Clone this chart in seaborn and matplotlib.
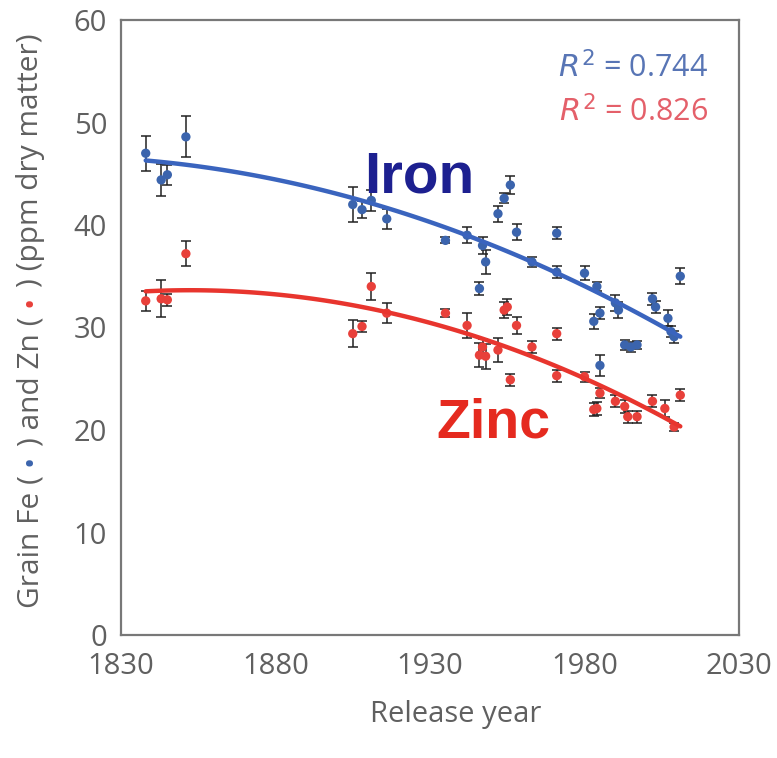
import numpy as np
import pandas as pd
import seaborn as sns
import matplotlib.pyplot as plt

# ---------------- data ----------------
iron_year = [1838, 1843, 1845, 1851, 1905, 1908, 1911, 1916, 1935, 1942, 1947, 1948,
             1946, 1952, 1954, 1956, 1958, 1963, 1971, 1971, 1980, 1984, 1985, 1983,
             1985, 1990, 1991, 1993, 1995, 1997, 2002, 2003, 2007, 2008, 2009, 2011]
iron_val = [47.0, 44.4, 44.9, 48.6, 42.0, 41.5, 42.4, 40.6, 38.5, 39.0, 38.0, 36.4,
            33.8, 41.1, 42.6, 43.9, 39.3, 36.4, 39.2, 35.4, 35.3, 34.0, 31.4, 30.6,
            26.3, 32.4, 31.7, 28.3, 28.1, 28.3, 32.8, 32.0, 30.9, 29.6, 29.1, 35.0]
iron_err = [1.7, 1.6, 1.0, 2.0, 1.7, 0.8, 1.0, 1.0, 0.3, 0.8, 0.8, 1.2,
            0.6, 0.8, 0.5, 0.9, 0.8, 0.5, 0.6, 0.6, 0.7, 0.4, 0.6, 0.7,
            1.0, 0.8, 0.8, 0.5, 0.5, 0.4, 0.6, 0.6, 0.8, 0.5, 0.6, 0.8]

zinc_year = [1838, 1843, 1845, 1851, 1905, 1908, 1911, 1916, 1935, 1942, 1947, 1946,
             1948, 1952, 1954, 1955, 1956, 1958, 1963, 1971, 1971, 1980, 1985, 1984,
             1983, 1990, 1993, 1994, 1997, 2002, 2006, 2009, 2011]
zinc_val = [32.6, 32.8, 32.7, 37.2, 29.4, 30.1, 34.0, 31.4, 31.4, 30.2, 28.1, 27.3,
            27.2, 27.8, 31.7, 32.0, 24.9, 30.2, 28.1, 29.4, 25.3, 25.2, 23.6, 22.1,
            22.0, 22.8, 22.3, 21.3, 21.3, 22.8, 22.1, 20.3, 23.4]
zinc_err = [1.0, 1.8, 0.6, 1.2, 1.3, 0.5, 1.3, 1.0, 0.4, 1.2, 0.8, 1.2,
            1.2, 1.2, 0.8, 0.8, 0.6, 0.8, 0.6, 0.6, 0.6, 0.5, 0.5, 0.6,
            0.6, 0.6, 0.6, 0.6, 0.6, 0.6, 0.8, 0.4, 0.6]

x_ticks = [1830, 1880, 1930, 1980, 2030]
y_ticks = [0, 10, 20, 30, 40, 50, 60]
r2_iron = "0.744"
r2_zinc = "0.826"

# ---------------- style ----------------
sns.set_theme(style="white")
plt.rcParams['font.family'] = ['Open Sans', 'DejaVu Sans']
plt.rcParams['mathtext.fontset'] = 'dejavusans'

GRAY = '#606060'
SPINE = '#787878'
BLUE_PT = '#3b64ad'
RED_PT = '#e8403a'
BLUE_LN = '#3a64be'
RED_LN = '#e8352e'

fig = plt.figure(figsize=(7.77, 7.58), dpi=100)
W, H = 777, 758
ax = fig.add_axes([121 / W, 123 / H, 618 / W, 615 / H])

df_fe = pd.DataFrame({'year': iron_year, 'value': iron_val, 'err': iron_err})
df_zn = pd.DataFrame({'year': zinc_year, 'value': zinc_val, 'err': zinc_err})

for df in (df_fe, df_zn):
    ax.errorbar(df['year'], df['value'], yerr=df['err'], fmt='none',
                ecolor='#222222', elinewidth=1.1, capsize=3.5, capthick=1.1, zorder=2)

sns.scatterplot(data=df_fe, x='year', y='value', color=BLUE_PT, s=45,
                edgecolor='none', ax=ax, zorder=3)
sns.scatterplot(data=df_zn, x='year', y='value', color=RED_PT, s=45,
                edgecolor='none', ax=ax, zorder=3)

sns.regplot(data=df_fe, x='year', y='value', order=2, ci=None, scatter=False,
            truncate=True, line_kws=dict(color=BLUE_LN, lw=3.2, zorder=4), ax=ax)
sns.regplot(data=df_zn, x='year', y='value', order=2, ci=None, scatter=False,
            truncate=True, line_kws=dict(color=RED_LN, lw=3.2, zorder=4), ax=ax)

ax.set_xlim(1830, 2030)
ax.set_ylim(0, 60)
ax.set_xticks(x_ticks)
ax.set_yticks(y_ticks)
ax.set_xticklabels([str(v) for v in x_ticks])
ax.set_yticklabels([str(v) for v in y_ticks])
ax.tick_params(axis='both', direction='in', length=6, width=1.3, color=SPINE,
               labelsize=21, labelcolor=GRAY)
ax.tick_params(axis='x', pad=12)
ax.tick_params(axis='y', pad=10)
for sp in ax.spines.values():
    sp.set_visible(True)
    sp.set_color(SPINE)
    sp.set_linewidth(1.6)

ax.set_xlabel('Release year', fontsize=21, color=GRAY)
ax.xaxis.set_label_coords(0.542, -0.105)
ax.set_ylabel('')

# annotations
ax.text(1926.4, 43.2, 'Iron', fontsize=42, fontweight='bold', color='#1d2090',
        ha='center', va='baseline', family=['Liberation Sans', 'DejaVu Sans'])
ax.text(1950.4, 19.3, 'Zinc', fontsize=40, fontweight='bold', color='#e52a1f',
        ha='center', va='baseline', family=['Liberation Sans', 'DejaVu Sans'])
ax.text(2020, 54.4, r'$R^2$ = ' + r2_iron, fontsize=22, color='#5875b5',
        ha='right', va='baseline')
ax.text(2020, 50.1, r'$R^2$ = ' + r2_zinc, fontsize=22, color='#e4606a',
        ha='right', va='baseline')

# multi-coloured rotated y label
fig.canvas.draw()
renderer = fig.canvas.get_renderer()
pieces = [('Grain Fe (', GRAY), ('\u2022', BLUE_PT), (') and Zn (', GRAY),
          ('\u2022', RED_PT), (') (ppm dry matter)', GRAY)]
y0 = (H - 608) / H
x0 = 31 / W
gap = 9 / H
for i, (s, c) in enumerate(pieces):
    t = fig.text(x0, y0, s, rotation=90, ha='center', va='bottom',
                 fontsize=21.5, color=c)
    bb = t.get_window_extent(renderer)
    y0 += bb.height / H + gap

fig.savefig('out.png', dpi=100)
